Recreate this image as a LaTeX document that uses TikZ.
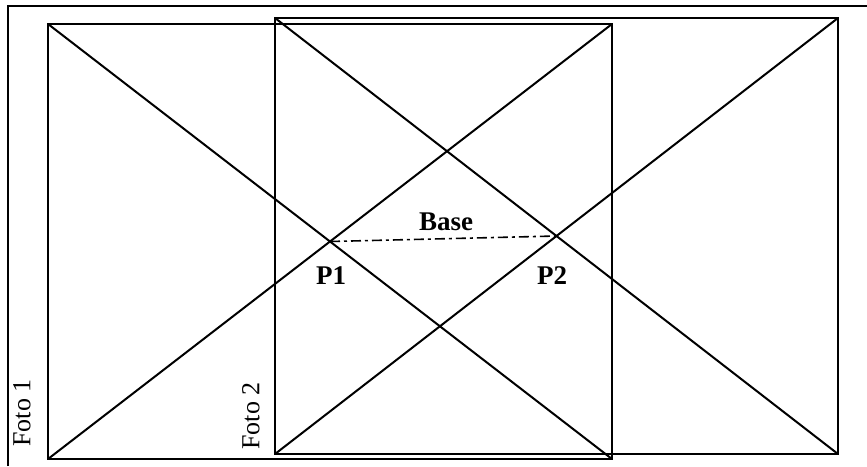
\documentclass[tikz,border=0pt]{standalone}
\usepackage{fontspec}
\setmainfont{Liberation Serif}
\begin{document}
\begin{tikzpicture}[x=1pt,y=-1pt,
  edge/.style={line width=2pt, line join=miter},
  frame/.style={line width=2pt},
  lbl/.style={inner sep=0pt, font=\fontsize{27}{27}\selectfont\bfseries},
  fotolbl/.style={inner sep=0pt, rotate=90, font=\fontsize{26}{26}\selectfont}]
\useasboundingbox (0,0) rectangle (867,466);
% outer frame (left and top)
\coordinate (fa) at (8,466);
\coordinate (fb) at (8,6);
\coordinate (fc) at (867,6);
\draw[frame] (fa) -- (fb) -- (fc);
% Foto 1
\coordinate (a1) at (48,24);
\coordinate (b1) at (612,24);
\coordinate (c1) at (612,459);
\coordinate (d1) at (48,459);
\draw[edge] (a1) -- (b1) -- (c1) -- (d1) -- cycle;
\draw[edge] (a1) -- (c1);
\draw[edge] (b1) -- (d1);
% Foto 2
\coordinate (a2) at (275,18);
\coordinate (b2) at (838,18);
\coordinate (c2) at (838,454);
\coordinate (d2) at (275,454);
\draw[edge] (a2) -- (b2) -- (c2) -- (d2) -- cycle;
\draw[edge] (a2) -- (c2);
\draw[edge] (b2) -- (d2);
% centres
\coordinate (p1) at (330,241.5);
\coordinate (p2) at (556.5,236);
\draw[line width=1.6pt, dash pattern=on 10pt off 4pt on 3pt off 4pt] (p1) -- (p2);
\node[lbl] (base) at (446,222) {Base};
\node[lbl] (lp1) at (331,276) {P1};
\node[lbl] (lp2) at (552,276) {P2};
\node[fotolbl] (f1) at (22,413) {Foto 1};
\node[fotolbl] (f2) at (251,416) {Foto 2};
\end{tikzpicture}
\end{document}
